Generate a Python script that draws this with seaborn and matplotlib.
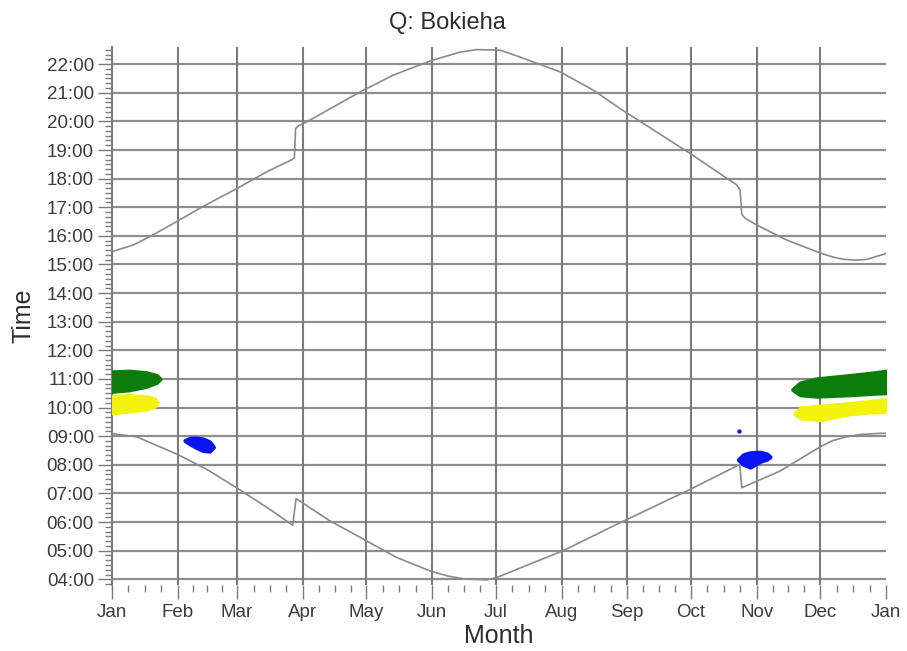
import numpy as np
import pandas as pd
import matplotlib
matplotlib.use("Agg")
import matplotlib.pyplot as plt
import seaborn as sns

# ---------------- data ----------------
title = "Q: Bokieha"
x_label = "Month"
y_label = "Time"
month_labels = ["Jan", "Feb", "Mar", "Apr", "May", "Jun", "Jul",
                "Aug", "Sep", "Oct", "Nov", "Dec", "Jan"]
month_starts = [0, 31, 59, 90, 120, 151, 181, 212, 243, 273, 304, 334, 365]
hour_ticks = [4, 5, 6, 7, 8, 9, 10, 11, 12, 13, 14, 15, 16, 17, 18, 19, 20, 21, 22]
hour_labels = ["04:00", "05:00", "06:00", "07:00", "08:00", "09:00", "10:00",
               "11:00", "12:00", "13:00", "14:00", "15:00", "16:00", "17:00",
               "18:00", "19:00", "20:00", "21:00", "22:00"]

# sunset (upper curve), day of year -> hour
sunset_day = [0, 10, 18, 31, 41.5, 59, 73, 85, 86, 86.6, 88, 92, 117, 132.7, 150.8,
              164.1, 172, 183, 192.4, 211.3, 227, 239.6, 272.6, 294.6, 296.2, 297,
              298.5, 304, 318, 334, 340, 345, 351, 356, 364, 365]
sunset_hour = [15.45, 15.68, 15.98, 16.52, 16.97, 17.66, 18.24, 18.67, 18.72, 19.75,
               19.85, 19.99, 21.03, 21.62, 22.13, 22.42, 22.51, 22.49, 22.25, 21.73,
               21.09, 20.45, 18.88, 17.78, 17.60, 16.75, 16.62, 16.38, 15.86, 15.40,
               15.26, 15.18, 15.15, 15.18, 15.36, 15.40]

# sunrise (lower curve)
sunrise_day = [0, 11.6, 31, 44.7, 60, 74.5, 85.2, 86.8, 102.8, 120.1, 134.3, 150,
               158, 166, 176.7, 181.4, 197, 212.8, 238, 272.6, 296, 297, 315, 334,
               340, 346.5, 353, 362, 365]
sunrise_hour = [9.09, 8.98, 8.36, 7.84, 7.14, 6.44, 5.89, 6.82, 6.04, 5.34, 4.76, 4.29,
                4.12, 4.01, 3.98, 4.06, 4.53, 5.00, 5.92, 7.14, 8.01, 7.20, 7.78, 8.63,
                8.85, 8.98, 9.06, 9.10, 9.10]

# coloured observation blobs: day, lower edge hour, upper edge hour
green_jan_day = [-2, 0, 8, 16, 21, 22.6]
green_jan_lo = [10.57, 10.57, 10.62, 10.74, 10.88, 11.0]
green_jan_hi = [11.25, 11.25, 11.27, 11.22, 11.12, 11.0]

yellow_jan_day = [-2, 0, 8, 16, 20, 21.2]
yellow_jan_lo = [9.82, 9.82, 9.88, 9.95, 10.05, 10.17]
yellow_jan_hi = [10.38, 10.38, 10.42, 10.38, 10.30, 10.17]

blue_feb_day = [34.4, 37, 40, 43, 46, 47.8]
blue_feb_lo = [8.85, 8.72, 8.60, 8.50, 8.48, 8.62]
blue_feb_hi = [8.85, 8.93, 8.93, 8.90, 8.80, 8.62]

green_dec_day = [321, 324.5, 332, 348, 359, 365, 367]
green_dec_lo = [10.63, 10.45, 10.40, 10.45, 10.50, 10.52, 10.52]
green_dec_hi = [10.63, 10.86, 11.00, 11.12, 11.21, 11.27, 11.27]

yellow_dec_day = [322, 325, 334, 348, 358, 365, 367]
yellow_dec_lo = [9.79, 9.64, 9.58, 9.79, 9.85, 9.87, 9.87]
yellow_dec_hi = [9.79, 9.99, 10.05, 10.14, 10.22, 10.28, 10.28]

blue_nov_day = [295.4, 297.7, 300.9, 305.6, 308.8, 310.3]
blue_nov_lo = [8.18, 8.02, 7.92, 8.12, 8.20, 8.28]
blue_nov_hi = [8.18, 8.35, 8.42, 8.44, 8.38, 8.28]

blue_dot_day = [295.8]
blue_dot_hour = [9.17]

# ---------------- plotting ----------------
sns.set_style("white")
plt.rcParams["font.family"] = ["Liberation Sans", "DejaVu Sans"]

W, H = 907, 651
fig, ax = plt.subplots(figsize=(W / 100, H / 100), dpi=100)
fig.subplots_adjust(left=112 / W, right=886 / W, top=1 - 47 / H, bottom=1 - 585 / H)

grid_h = "#8e8e8e"
grid_v = "#7c7c7c"
ax.set_xlim(0, 365)
ax.set_ylim(3.80, 22.60)

# grid
for h in hour_ticks:
    ax.axhline(h, color=grid_h, lw=1.6, zorder=0)
for d in month_starts[:-1]:
    ax.axvline(d, color=grid_v, lw=1.5, zorder=0)

# curves
df_set = pd.DataFrame({"day": sunset_day, "hour": sunset_hour})
df_rise = pd.DataFrame({"day": sunrise_day, "hour": sunrise_hour})
line_col = "#8a8a8a"
sns.lineplot(data=df_set, x="day", y="hour", sort=False, estimator=None,
             color=line_col, lw=1.2, ax=ax, zorder=2)
sns.lineplot(data=df_rise, x="day", y="hour", sort=False, estimator=None,
             color=line_col, lw=1.2, ax=ax, zorder=2)

# blobs
green = "#0a7d0a"
yellow = "#f2f20a"
blue = "#0a14f0"
blobs = [
    (green_jan_day, green_jan_lo, green_jan_hi, green),
    (yellow_jan_day, yellow_jan_lo, yellow_jan_hi, yellow),
    (blue_feb_day, blue_feb_lo, blue_feb_hi, blue),
    (green_dec_day, green_dec_lo, green_dec_hi, green),
    (yellow_dec_day, yellow_dec_lo, yellow_dec_hi, yellow),
    (blue_nov_day, blue_nov_lo, blue_nov_hi, blue),
]
for d, lo, hi, c in blobs:
    poly = ax.fill_between(d, lo, hi, color=c, lw=3, edgecolor=c, zorder=3)
    poly.set_joinstyle("round")

sns.scatterplot(x=blue_dot_day, y=blue_dot_hour, color=blue, marker="o", s=10,
                linewidth=0, ax=ax, zorder=3)

# ticks
ax.set_yticks(hour_ticks)
ax.set_yticklabels(hour_labels)
ax.set_xticks(month_starts)
ax.set_xticklabels(month_labels)
minor_x = []
for a, b in zip(month_starts[:-1], month_starts[1:]):
    for k in (1, 2, 3):
        minor_x.append(a + (b - a) * k / 4)
ax.set_xticks(minor_x, minor=True)
ax.yaxis.set_minor_locator(matplotlib.ticker.MultipleLocator(1 / 6))

tick_col = "#7a7a7a"
ax.tick_params(axis="both", which="major", direction="out", length=10, width=1,
               color=tick_col, labelsize=13.5, labelcolor="#3c3c3c")
ax.tick_params(axis="both", which="minor", direction="out", length=5, width=1,
               color=tick_col)
ax.tick_params(axis="y", which="both", left=True, pad=3)
ax.tick_params(axis="x", which="both", bottom=True, pad=4)

for s in ("top", "right", "bottom"):
    ax.spines[s].set_visible(False)
ax.spines["left"].set_color(grid_v)
ax.spines["left"].set_linewidth(1.5)

ax.set_xlabel(x_label, fontsize=18, color="#2e2e2e", labelpad=2)
ax.set_ylabel(y_label, fontsize=18, color="#2e2e2e", labelpad=8)
fig.text(447 / W, 1 - 23 / H, title, ha="center", va="center",
         fontsize=17, color="#2e2e2e")

fig.savefig("out.png", dpi=100)
